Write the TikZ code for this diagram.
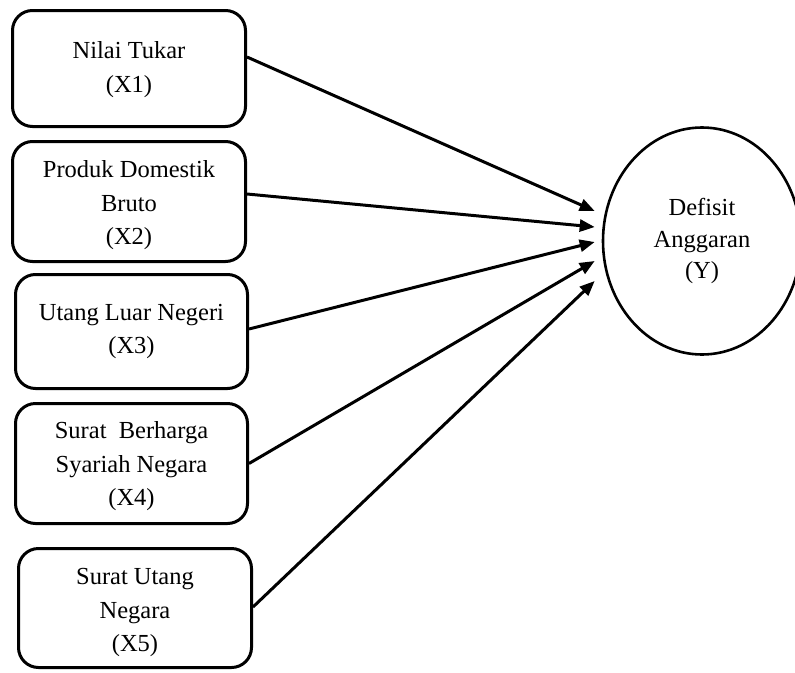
\documentclass[tikz,border=0pt]{standalone}
\usepackage{fontspec}
\setmainfont{Liberation Serif}
\usetikzlibrary{arrows.meta,shapes.geometric}
\begin{document}
\begin{tikzpicture}[x=1pt,y=-1pt,
  varbox/.style={draw, line width=3pt, rounded corners=20pt, inner sep=0pt},
  boxtext/.style={align=center, inner sep=0pt, font=\fontsize{24.5}{33.5}\selectfont},
  target/.style={draw, ellipse, line width=2.6pt, align=center, inner sep=0pt,
    minimum width=198pt, minimum height=227pt, font=\fontsize{24.5}{31.5}\selectfont},
  link/.style={line width=3pt, -{Triangle[length=15pt,width=12pt]}}]
\useasboundingbox (0,0) rectangle (795,672);
\node[varbox, minimum width=233pt, minimum height=116pt] (x1) at (129,68.5) {};
\node[varbox, minimum width=233pt, minimum height=120pt] (x2) at (129,201.5) {};
\node[varbox, minimum width=232pt, minimum height=114pt] (x3) at (131.5,331.5) {};
\node[varbox, minimum width=232pt, minimum height=120pt] (x4) at (131.5,463.5) {};
\node[varbox, minimum width=233pt, minimum height=119pt] (x5) at (135,608) {};
\node[boxtext] (x1t) at ([yshift=-1pt]x1.center) {Nilai Tukar\\(X1)};
\node[boxtext] (x2t) at ([yshift=-4pt]x2.center) {Produk Domestik\\Bruto\\(X2)};
\node[boxtext] (x3t) at (x3.center) {Utang Luar Negeri\\(X3)};
\node[boxtext] (x4t) at ([yshift=-3pt]x4.center) {Surat~ Berharga\\Syariah Negara\\(X4)};
\node[boxtext] (x5t) at ([yshift=-4.5pt]x5.center) {Surat Utang\\Negara\\(X5)};
\node[target] (y) at (702,241) {Defisit\\Anggaran\\(Y)};
\draw[link] ([yshift=11.5pt]x1.east) -- ([shift={(-7,-30)}]y.west);
\draw[link] ([yshift=7.5pt]x2.east) -- ([shift={(-7,-14)}]y.west);
\draw[link] ([yshift=2.5pt]x3.east) -- ([shift={(-7,1)}]y.west);
\draw[link] (x4.east) -- ([shift={(-7,20)}]y.west);
\draw[link] ([yshift=1pt]x5.east) -- ([shift={(-7,40)}]y.west);
\end{tikzpicture}
\end{document}
